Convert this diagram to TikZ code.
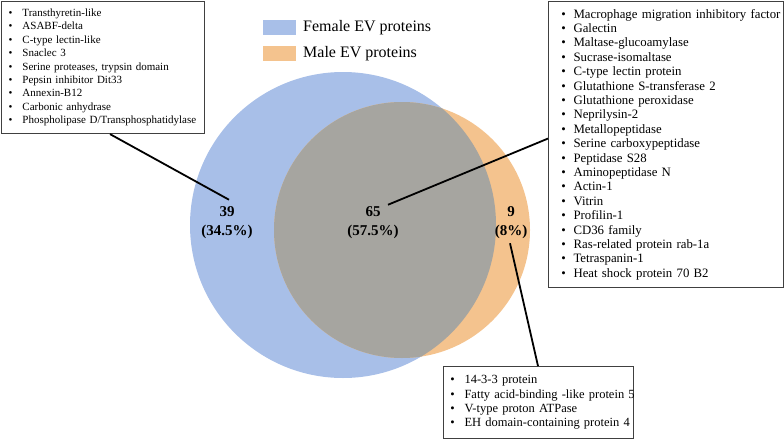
\documentclass[tikz,border=0pt]{standalone}
\usepackage{fontspec}
\setmainfont{Liberation Serif}
\definecolor{vennblue}{HTML}{A8BFE8}
\definecolor{vennorange}{HTML}{F4C38E}
\definecolor{venngray}{HTML}{A6A5A0}
\definecolor{boxgray}{HTML}{404040}
\newlength\bulw
\newcommand\bitem[1]{\mbox{\makebox[\bulw][l]{\textbullet}#1}}
\begin{document}
\begin{tikzpicture}[x=1pt,y=-1pt,
  listbox/.style={draw=boxgray, line width=1.1pt, fill=white, anchor=north west,
                  align=left, inner xsep=1pt, inner ysep=0pt},
  count/.style={font=\fontsize{15}{19}\selectfont\bfseries, align=center, inner sep=0pt},
  conn/.style={line width=1.8pt, black},
  legkey/.style={inner sep=0pt, minimum width=33pt, minimum height=15pt, anchor=north west},
  legtext/.style={font=\fontsize{16}{19}\selectfont, anchor=west, inner sep=0pt}]
\useasboundingbox (0,0) rectangle (784,439);
% Venn circles
\fill[vennblue] (343,225) circle[radius=153];
\fill[vennorange] (402,230) circle[radius=128];
\begin{scope}
  \clip (343,225) circle[radius=153];
  \fill[venngray] (402,230) circle[radius=128];
\end{scope}
% legend
\node[legkey, fill=vennblue] (keyF) at (263,20) {};
\node[legkey, fill=vennorange] (keyM) at (263,46) {};
\node[legtext] (legF) at (303,28) {Female EV proteins};
\node[legtext] (legM) at (303,54) {Male EV proteins};
% counts
\node[count] (n39) at (227,223) {39\\(34.5\%)};
\node[count] (n65) at (373,223) {65\\(57.5\%)};
\node[count] (n9) at (511,223) {9\\(8\%)};
% list boxes
\node[listbox, font=\fontsize{11}{13.4}\selectfont, text width=201pt, minimum height=132pt] (lbox) at (1,1)
{\leftskip=6pt\setlength\bulw{13.9pt}%
\bitem{Transthyretin-like}\\
\bitem{ASABF-delta}\\
\bitem{C-type lectin-like}\\
\bitem{Snaclec 3}\\
\bitem{Serine proteases, trypsin domain}\\
\bitem{Pepsin inhibitor Dit33}\\
\bitem{Annexin-B12}\\
\bitem{Carbonic anhydrase}\\
\bitem{Phospholipase D/Transphosphatidylase}\par};
\node[listbox, font=\fontsize{12.8}{14.4}\selectfont, text width=233pt, minimum height=286pt] (rbox) at (548,1)
{\leftskip=11.8pt\setlength\bulw{12.2pt}%
\bitem{Macrophage migration inhibitory factor}\\
\bitem{Galectin}\\
\bitem{Maltase-glucoamylase}\\
\bitem{Sucrase-isomaltase}\\
\bitem{C-type lectin protein}\\
\bitem{Glutathione S-transferase 2}\\
\bitem{Glutathione peroxidase}\\
\bitem{Neprilysin-2}\\
\bitem{Metallopeptidase}\\
\bitem{Serine carboxypeptidase}\\
\bitem{Peptidase S28}\\
\bitem{Aminopeptidase N}\\
\bitem{Actin-1}\\
\bitem{Vitrin}\\
\bitem{Profilin-1}\\
\bitem{CD36 family}\\
\bitem{Ras-related protein rab-1a}\\
\bitem{Tetraspanin-1}\\
\bitem{Heat shock protein 70 B2}\par};
\node[listbox, font=\fontsize{12.5}{14.3}\selectfont, text width=188pt, minimum height=72pt] (bbox) at (443,366)
{\leftskip=5.8pt\setlength\bulw{14.2pt}%
\bitem{14-3-3 protein}\\
\bitem{Fatty acid-binding -like protein 5}\\
\bitem{V-type proton ATPase}\\
\bitem{EH domain-containing protein 4}\par};
% connectors
\draw[conn] ([xshift=109pt]lbox.south west) -- ([xshift=2pt,yshift=7pt]n39.north);
\draw[conn] ([xshift=15pt,yshift=2pt]n65.north) -- ([yshift=6pt]rbox.west);
\draw[conn] ([xshift=-1pt,yshift=-4pt]n9.south) -- ([xshift=95pt]bbox.north west);
\end{tikzpicture}
\end{document}
